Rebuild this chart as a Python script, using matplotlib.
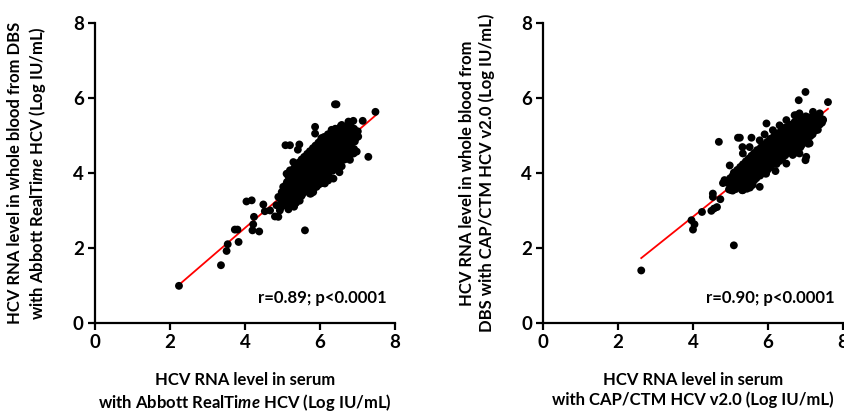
import matplotlib
matplotlib.use("Agg")
import matplotlib.pyplot as plt

plt.rcParams['font.family'] = ['Lato', 'DejaVu Sans']
plt.rcParams['font.weight'] = 'bold'
plt.rcParams['mathtext.fontset'] = 'custom'
plt.rcParams['mathtext.it'] = 'Lato:italic:bold'
plt.rcParams['mathtext.rm'] = 'Lato:bold'

## Abbott RealTime panel ##
abbott_x = [2.24, 3.36, 3.51, 3.54, 3.83, 3.73, 3.80, 4.04, 4.18, 4.24, 4.22, 4.20,
            4.38, 4.49, 4.53, 4.67, 4.80, 4.89, 4.93, 5.60, 5.08, 5.20, 5.45, 5.87,
            5.87, 6.40, 6.44, 6.89, 7.14, 7.48, 7.29, 6.90, 5.82, 4.98, 5.11, 5.41,
            # ragged edge of the cloud
            5.29, 5.56, 5.20, 5.02, 4.89, 4.84, 5.64, 5.82, 6.36, 6.80, 6.98, 6.93,
            7.02, 6.04, 6.31, 6.58, 6.76, 5.82, 6.13, 5.73, 6.52, 6.22,
            # dense cloud
            4.96, 5.04, 5.16, 5.23, 5.31,
            5.00, 5.11, 5.20, 5.36,
            4.94, 5.06, 5.14, 5.27, 5.34, 5.46,
            5.03, 5.13, 5.24, 5.38, 5.51,
            5.01, 5.09, 5.22, 5.29, 5.41, 5.52, 5.58, 5.76,
            5.07, 5.19, 5.31, 5.39, 5.49, 5.61, 5.71,
            5.04, 5.17, 5.24, 5.36, 5.44, 5.56, 5.66, 5.79, 5.91,
            5.09, 5.21, 5.31, 5.41, 5.51, 5.61, 5.71, 5.83, 5.97,
            5.12, 5.23, 5.36, 5.46, 5.54, 5.66, 5.74, 5.86, 5.94, 6.06,
            5.19, 5.31, 5.43, 5.51, 5.63, 5.73, 5.83, 5.97, 6.07,
            5.16, 5.29, 5.41, 5.49, 5.62, 5.69, 5.81, 5.89, 6.02, 6.11, 6.24,
            5.23, 5.34, 5.46, 5.56, 5.66, 5.76, 5.86, 5.96, 6.06, 6.17,
            5.26, 5.39, 5.51, 5.61, 5.69, 5.82, 5.91, 5.99, 6.12, 6.19, 6.34,
            5.31, 5.44, 5.56, 5.66, 5.76, 5.86, 5.96, 6.06, 6.16, 6.26, 6.41,
            5.36, 5.49, 5.61, 5.72, 5.79, 5.91, 6.01, 6.09, 6.21, 6.29, 6.46, 6.58,
            5.44, 5.56, 5.68, 5.78, 5.88, 5.98, 6.08, 6.18, 6.31, 6.41, 6.55,
            5.51, 5.64, 5.76, 5.84, 5.96, 6.04, 6.16, 6.24, 6.36, 6.49, 6.66,
            5.58, 5.71, 5.81, 5.93, 6.03, 6.13, 6.23, 6.33, 6.46, 6.61, 6.76,
            5.66, 5.79, 5.91, 6.01, 6.09, 6.21, 6.29, 6.41, 6.54, 6.71, 6.84,
            5.73, 5.86, 5.98, 6.08, 6.18, 6.28, 6.38, 6.51, 6.63, 6.78,
            5.81, 5.94, 6.06, 6.14, 6.26, 6.34, 6.46, 6.59, 6.76, 6.91,
            5.88, 6.01, 6.13, 6.23, 6.33, 6.43, 6.53, 6.68, 6.81,
            5.96, 6.09, 6.21, 6.31, 6.39, 6.51, 6.61, 6.74, 6.86,
            6.03, 6.16, 6.28, 6.38, 6.48, 6.61, 6.73, 6.88,
            6.11, 6.24, 6.36, 6.44, 6.56, 6.69, 6.81, 6.96,
            6.21, 6.36, 6.48, 6.58, 6.71, 6.81, 6.93,
            6.31, 6.44, 6.56, 6.64, 6.76, 6.86, 7.01,
            6.41, 6.53, 6.63, 6.73, 6.91,
            6.56, 6.69, 6.81]
abbott_y = [0.99, 1.54, 1.92, 2.10, 2.16, 2.49, 2.49, 3.24, 3.27, 2.83, 2.63, 2.47,
            2.44, 3.16, 2.98, 3.00, 2.84, 2.83, 3.00, 2.47, 4.74, 4.74, 4.76, 5.23,
            5.05, 5.83, 5.83, 5.39, 5.39, 5.63, 4.43, 4.52, 3.49, 3.49, 3.98, 4.62,
            # ragged edge of the cloud
            4.29, 4.29, 4.07, 3.63, 3.36, 3.14, 3.54, 3.54, 3.85, 4.35, 4.57, 4.84,
            4.97, 4.93, 5.15, 5.28, 5.37, 3.72, 3.72, 3.45, 4.02, 3.80,
            # dense cloud
            3.08, 3.14, 3.03, 3.18, 3.10,
            3.21, 3.19, 3.23, 3.20,
            3.31, 3.27, 3.34, 3.29, 3.33, 3.26,
            3.39, 3.37, 3.40, 3.36, 3.39,
            3.46, 3.43, 3.48, 3.44, 3.47, 3.42, 3.49, 3.45,
            3.53, 3.55, 3.52, 3.54, 3.51, 3.55, 3.53,
            3.61, 3.58, 3.63, 3.59, 3.62, 3.57, 3.61, 3.58, 3.63,
            3.68, 3.70, 3.67, 3.69, 3.66, 3.70, 3.68, 3.67, 3.69,
            3.76, 3.73, 3.77, 3.74, 3.78, 3.72, 3.76, 3.74, 3.77, 3.73,
            3.83, 3.85, 3.82, 3.84, 3.81, 3.85, 3.83, 3.82, 3.84,
            3.91, 3.88, 3.92, 3.89, 3.93, 3.87, 3.91, 3.88, 3.92, 3.89, 3.91,
            3.98, 4.00, 3.97, 3.99, 3.96, 4.00, 3.98, 3.97, 3.99, 3.98,
            4.06, 4.03, 4.07, 4.04, 4.08, 4.02, 4.06, 4.03, 4.07, 4.04, 4.06,
            4.13, 4.15, 4.12, 4.14, 4.11, 4.15, 4.13, 4.12, 4.14, 4.13, 4.12,
            4.21, 4.18, 4.22, 4.19, 4.23, 4.17, 4.21, 4.18, 4.22, 4.19, 4.21, 4.18,
            4.28, 4.30, 4.27, 4.29, 4.26, 4.30, 4.28, 4.27, 4.29, 4.28, 4.27,
            4.36, 4.33, 4.37, 4.34, 4.38, 4.32, 4.36, 4.33, 4.37, 4.34, 4.36,
            4.43, 4.45, 4.42, 4.44, 4.41, 4.45, 4.43, 4.42, 4.44, 4.43, 4.42,
            4.51, 4.48, 4.52, 4.49, 4.53, 4.47, 4.51, 4.48, 4.52, 4.49, 4.51,
            4.58, 4.60, 4.57, 4.59, 4.56, 4.60, 4.58, 4.57, 4.59, 4.58,
            4.66, 4.63, 4.67, 4.64, 4.68, 4.62, 4.66, 4.63, 4.67, 4.64,
            4.73, 4.75, 4.72, 4.74, 4.71, 4.75, 4.73, 4.72, 4.74,
            4.81, 4.78, 4.82, 4.79, 4.83, 4.77, 4.81, 4.78, 4.82,
            4.88, 4.90, 4.87, 4.89, 4.86, 4.90, 4.88, 4.87,
            4.96, 4.93, 4.97, 4.94, 4.98, 4.92, 4.96, 4.93,
            5.03, 5.05, 5.02, 5.04, 5.01, 5.05, 5.03,
            5.11, 5.08, 5.12, 5.09, 5.13, 5.07, 5.11,
            5.18, 5.20, 5.17, 5.19, 5.18,
            5.26, 5.23, 5.27]
abbott_fit_x = [2.22, 7.50]
abbott_fit_y = [1.00, 5.55]

## CAP/CTM panel ##
cap_x = [2.62, 5.09, 3.96, 4.00, 4.04, 4.24, 4.49, 4.56, 4.64, 4.53, 4.53, 4.73,
         4.69, 4.98, 4.80, 4.93, 5.20, 5.56, 5.32, 5.96, 6.20, 6.82, 7.00, 7.60,
         7.02, 7.00, 7.07, 6.31, 6.71, 6.76, 5.25, 5.91, 7.09,
         # ragged edge of the cloud
         5.22, 4.84, 5.02, 5.33, 5.78, 6.49, 6.84, 7.11, 7.33, 7.47, 5.33, 5.51,
         5.78, 6.13, 6.49, 6.84, 7.20, 7.38, 5.95, 6.66,
         # dense cloud
         4.96, 5.06, 5.14, 5.31, 5.44,
         5.03, 5.16, 5.26, 5.38, 5.52,
         5.01, 5.09, 5.21, 5.29, 5.46, 5.59,
         5.05, 5.15, 5.25, 5.36, 5.49, 5.63,
         4.99, 5.11, 5.19, 5.31, 5.39, 5.56, 5.69,
         5.06, 5.16, 5.26, 5.36, 5.46, 5.61, 5.79,
         5.09, 5.21, 5.29, 5.41, 5.49, 5.61, 5.74, 5.91,
         5.18, 5.28, 5.38, 5.48, 5.58, 5.68, 5.83, 5.98,
         5.26, 5.34, 5.46, 5.54, 5.66, 5.74, 5.91, 6.04,
         5.33, 5.43, 5.53, 5.63, 5.73, 5.83, 5.96, 6.11, 6.23,
         5.41, 5.49, 5.61, 5.69, 5.81, 5.89, 6.01, 6.14, 6.31,
         5.48, 5.58, 5.68, 5.78, 5.88, 5.98, 6.08, 6.23, 6.38,
         5.56, 5.64, 5.76, 5.84, 5.96, 6.04, 6.16, 6.29, 6.46,
         5.63, 5.73, 5.83, 5.93, 6.03, 6.13, 6.23, 6.38, 6.56, 6.71,
         5.71, 5.84, 5.96, 6.04, 6.16, 6.24, 6.36, 6.49, 6.66, 6.79,
         5.81, 5.91, 6.01, 6.11, 6.21, 6.31, 6.43, 6.56, 6.71, 6.86,
         5.91, 5.99, 6.11, 6.19, 6.31, 6.39, 6.51, 6.59, 6.76, 6.89,
         5.98, 6.08, 6.18, 6.28, 6.38, 6.48, 6.58, 6.71, 6.86, 6.99,
         6.06, 6.19, 6.31, 6.39, 6.51, 6.59, 6.71, 6.79, 6.96, 7.04,
         6.16, 6.26, 6.36, 6.46, 6.56, 6.66, 6.76, 6.88, 7.01, 7.13,
         6.26, 6.34, 6.46, 6.54, 6.66, 6.74, 6.86, 6.94, 7.11, 7.19,
         6.36, 6.48, 6.58, 6.68, 6.78, 6.88, 6.98, 7.08, 7.16, 7.26,
         6.46, 6.59, 6.71, 6.79, 6.91, 6.99, 7.11, 7.19, 7.31,
         6.58, 6.66, 6.76, 6.86, 6.96, 7.06, 7.16, 7.28, 7.38,
         6.71, 6.84, 6.96, 7.04, 7.16, 7.24, 7.36, 7.44,
         6.88, 6.98, 7.08, 7.18, 7.28, 7.38, 7.46,
         7.01, 7.09, 7.21, 7.31]
cap_y = [1.40, 2.07, 2.74, 2.49, 2.63, 2.96, 2.99, 3.05, 3.09, 3.45, 3.36, 3.30,
         4.83, 4.20, 3.73, 3.73, 4.94, 4.94, 4.69, 5.32, 4.05, 5.94, 6.16, 5.89,
         4.43, 4.34, 4.78, 5.27, 5.54, 5.54, 4.94, 5.03, 4.80,
         # ragged edge of the cloud
         4.07, 3.81, 3.54, 3.54, 3.63, 4.25, 4.52, 4.79, 5.15, 5.41, 4.52, 4.69,
         4.87, 5.14, 5.41, 5.59, 5.63, 5.59, 3.98, 4.48,
         # dense cloud
         3.56, 3.53, 3.57, 3.54, 3.58,
         3.63, 3.65, 3.62, 3.64, 3.61,
         3.71, 3.68, 3.72, 3.69, 3.73, 3.68,
         3.78, 3.80, 3.77, 3.79, 3.76, 3.80,
         3.86, 3.83, 3.87, 3.84, 3.88, 3.83, 3.86,
         3.93, 3.95, 3.92, 3.94, 3.91, 3.95, 3.93,
         4.01, 3.98, 4.02, 3.99, 4.03, 3.98, 4.01, 3.99,
         4.08, 4.10, 4.07, 4.09, 4.06, 4.10, 4.08, 4.07,
         4.16, 4.13, 4.17, 4.14, 4.18, 4.13, 4.16, 4.14,
         4.23, 4.25, 4.22, 4.24, 4.21, 4.25, 4.23, 4.22, 4.24,
         4.31, 4.28, 4.32, 4.29, 4.33, 4.28, 4.31, 4.29, 4.32,
         4.38, 4.40, 4.37, 4.39, 4.36, 4.40, 4.38, 4.37, 4.39,
         4.46, 4.43, 4.47, 4.44, 4.48, 4.43, 4.46, 4.44, 4.47,
         4.53, 4.55, 4.52, 4.54, 4.51, 4.55, 4.53, 4.52, 4.54, 4.53,
         4.61, 4.58, 4.62, 4.59, 4.63, 4.58, 4.61, 4.59, 4.62, 4.58,
         4.68, 4.70, 4.67, 4.69, 4.66, 4.70, 4.68, 4.67, 4.69, 4.68,
         4.76, 4.73, 4.77, 4.74, 4.78, 4.73, 4.76, 4.74, 4.77, 4.73,
         4.83, 4.85, 4.82, 4.84, 4.81, 4.85, 4.83, 4.82, 4.84, 4.83,
         4.91, 4.88, 4.92, 4.89, 4.93, 4.88, 4.91, 4.89, 4.92, 4.88,
         4.98, 5.00, 4.97, 4.99, 4.96, 5.00, 4.98, 4.97, 4.99, 4.98,
         5.06, 5.03, 5.07, 5.04, 5.08, 5.03, 5.06, 5.04, 5.07, 5.03,
         5.13, 5.15, 5.12, 5.14, 5.11, 5.15, 5.13, 5.12, 5.14, 5.13,
         5.21, 5.18, 5.22, 5.19, 5.23, 5.18, 5.21, 5.19, 5.22,
         5.28, 5.30, 5.27, 5.29, 5.26, 5.30, 5.28, 5.27, 5.29,
         5.36, 5.33, 5.37, 5.34, 5.38, 5.33, 5.36, 5.34,
         5.43, 5.45, 5.42, 5.44, 5.41, 5.45, 5.43,
         5.51, 5.48, 5.52, 5.49]
cap_fit_x = [2.62, 7.60]
cap_fit_y = [1.73, 5.71]

ticks = [0, 2, 4, 6, 8]

fig = plt.figure(figsize=(8.45, 4.13), dpi=100)
ax1 = fig.add_axes([0.1124, 0.218, 0.355, 0.7264])
ax2 = fig.add_axes([0.6426, 0.218, 0.355, 0.7264])

panels = [
    (ax1, abbott_x, abbott_y, abbott_fit_x, abbott_fit_y, "r=0.89; p<0.0001",
     "HCV RNA level in serum\nwith Abbott RealTi$\\mathit{me}$ HCV (Log IU/mL)",
     "HCV RNA level in whole blood from DBS\nwith Abbott RealTi$\\mathit{me}$ HCV (Log IU/mL)", -0.157),
    (ax2, cap_x, cap_y, cap_fit_x, cap_fit_y, "r=0.90; p<0.0001",
     "HCV RNA level in serum\nwith CAP/CTM HCV v2.0 (Log IU/mL)",
     "HCV RNA level in whole blood from\nDBS with CAP/CTM HCV v2.0 (Log IU/mL)", -0.161),
]

for ax, xs, ys, fx, fy, stat, xlab, ylab, ypos in panels:
    ax.plot(fx, fy, color='red', lw=1.3, zorder=2)
    ax.scatter(xs, ys, s=32, color='black', edgecolors='none', zorder=3, clip_on=False)
    ax.set_xlim(0, 8)
    ax.set_ylim(0, 8)
    ax.set_xticks(ticks)
    ax.set_yticks(ticks)
    for s in ['top', 'right']:
        ax.spines[s].set_visible(False)
    for s in ['left', 'bottom']:
        ax.spines[s].set_linewidth(1.6)
    ax.tick_params(direction='out', length=5, width=1.6, labelsize=13.5, pad=3)
    ax.text(6.05, 0.66, stat, ha='center', va='center', fontsize=12, fontweight='bold')
    ax.set_xlabel(xlab, fontsize=12, fontweight='bold', linespacing=1.2)
    ax.xaxis.set_label_coords(0.5, -0.165)
    ax.xaxis.label.set_va('top')
    ax.set_ylabel(ylab, fontsize=12, fontweight='bold', linespacing=1.25)
    ax.yaxis.set_label_coords(ypos, 0.5)

fig.savefig("out.png", dpi=100)
